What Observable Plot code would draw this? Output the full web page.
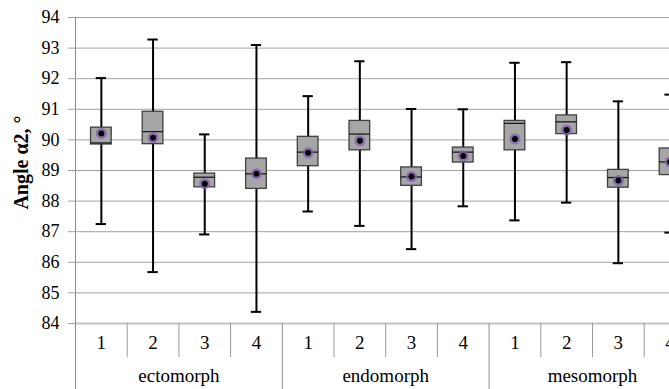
<!DOCTYPE html>
<html><head><meta charset="utf-8">
<script src="https://cdn.jsdelivr.net/npm/d3@7"></script>
<script src="https://cdn.jsdelivr.net/npm/@observablehq/plot@0.6"></script>
<style>
html,body{margin:0;padding:0;background:#fff;overflow:hidden;}
svg text{font-family:'Liberation Serif','Times New Roman',serif;}
</style></head><body><div id="chart"></div>
<script>
const groups = ["ectomorph", "endomorph", "mesomorph"];
const subgroups = ["1", "2", "3", "4"];
const whiskerMin = [87.25, 85.68, 86.91, 84.38, 87.66, 87.19, 86.43, 87.83, 87.37, 87.95, 85.97, 86.97];
const q1 =         [89.85, 89.86, 88.45, 88.40, 89.14, 89.66, 88.50, 89.26, 89.66, 90.19, 88.44, 88.85];
const median =     [89.90, 90.27, 88.78, 88.89, 89.60, 90.19, 88.79, 89.60, 90.54, 90.59, 88.77, 89.28];
const q3 =         [90.40, 90.92, 88.90, 89.39, 90.10, 90.62, 89.10, 89.75, 90.62, 90.80, 89.02, 89.72];
const whiskerMax = [92.02, 93.28, 90.18, 93.10, 91.43, 92.57, 91.01, 91.00, 92.52, 92.54, 91.26, 91.48];
const mean =       [90.21, 90.07, 88.57, 88.89, 89.58, 89.97, 88.80, 89.47, 90.03, 90.32, 88.67, 89.28];
const yTicks = [84, 85, 86, 87, 88, 89, 90, 91, 92, 93, 94];
const yTitle = "Angle α2, °";

const rows = [];
groups.forEach((g, gi) => subgroups.forEach((s, si) => {
  const i = gi * subgroups.length + si;
  rows.push({group: g, sub: s, pos: i + 0.5, min: whiskerMin[i], q1: q1[i], med: median[i], q3: q3[i], max: whiskerMax[i], mean: mean[i]});
}));
const n = rows.length;
const minorSeps = d3.range(1, n).filter(i => i % subgroups.length !== 0);
const groupSeps = d3.range(0, n + 1, subgroups.length);
const groupCenters = groups.map((g, gi) => ({group: g, pos: gi * subgroups.length + subgroups.length / 2}));
const bw = 0.2, cw = 0.1;
const serif = "'Liberation Serif', 'Times New Roman', serif";

const chart = Plot.plot({
  width: 669,
  height: 389,
  marginLeft: 75,
  marginRight: 0,
  marginTop: 17,
  marginBottom: 66,
  style: {fontFamily: serif, fontSize: "17px", background: "#fff", color: "#000"},
  x: {type: "linear", domain: [0, n], range: [75, 75 + n * 51.7], axis: null},
  y: {domain: [84, 94], axis: null},
  marks: [
    Plot.ruleY(yTicks.filter(t => t !== 84), {y: d => d, stroke: "#a3a3a3", strokeWidth: 1}),
    Plot.ruleY([84], {y: d => d, stroke: "#c4c4c4", strokeWidth: 2}),
    Plot.axisY(yTicks, {tickSize: 7, tickPadding: 9, stroke: "#a3a3a3", fill: "#000", fontSize: 18, fontFamily: serif, label: null, tickFormat: d => String(d)}),
    Plot.ruleX([0], {x: d => d, stroke: "#8c8c8c"}),
    Plot.axisX(minorSeps, {tickSize: 34, stroke: "#9a9a9a", tickFormat: () => "", label: null}),
    Plot.axisX(groupSeps, {tickSize: 66, stroke: "#8c8c8c", tickFormat: () => "", label: null}),
    Plot.text(rows, {x: "pos", text: "sub", frameAnchor: "bottom", dy: 25, fontSize: 19, fontFamily: serif, fill: "#000"}),
    Plot.text(groupCenters, {x: "pos", text: "group", frameAnchor: "bottom", dy: 58, fontSize: 19, fontFamily: serif, fill: "#000"}),
    Plot.ruleX(rows, {x: "pos", y1: "min", y2: "max", stroke: "#000", strokeWidth: 2}),
    Plot.ruleY(rows, {y: "min", x1: d => d.pos - cw, x2: d => d.pos + cw, stroke: "#000", strokeWidth: 2}),
    Plot.ruleY(rows, {y: "max", x1: d => d.pos - cw, x2: d => d.pos + cw, stroke: "#000", strokeWidth: 2}),
    Plot.rect(rows, {x1: d => d.pos - bw, x2: d => d.pos + bw, y1: "q1", y2: "q3", fill: "#a6a6a6", stroke: "#404040", strokeWidth: 1.3}),
    Plot.ruleY(rows, {y: "med", x1: d => d.pos - bw, x2: d => d.pos + bw, stroke: "#1a1a1a", strokeWidth: 1.3}),
    Plot.dot(rows, {x: "pos", y: "mean", r: 5.5, fill: "#7e5fb0", fillOpacity: 0.75}),
    Plot.dot(rows, {x: "pos", y: "mean", r: 3, fill: "#000"}),
    Plot.text([yTitle], {text: d => d, frameAnchor: "left", textAnchor: "middle", dx: -54, dy: -8, rotate: -90, fontWeight: "bold", fontSize: 20, fontFamily: serif, fill: "#000"})
  ]
});
document.getElementById("chart").appendChild(chart);
</script></body></html>
